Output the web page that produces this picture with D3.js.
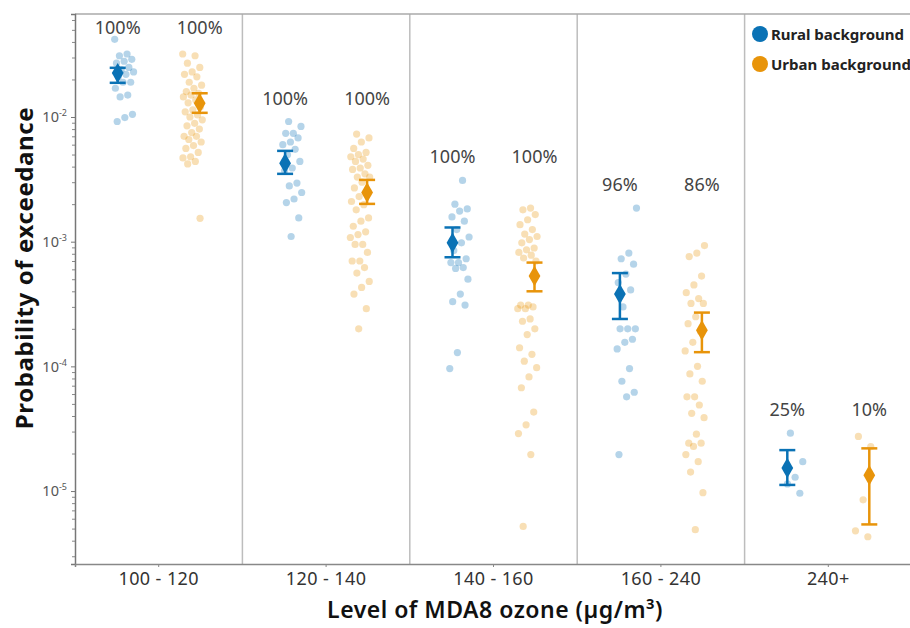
<!DOCTYPE html>
<html>
<head>
<meta charset="utf-8">
<script src="https://cdn.jsdelivr.net/npm/d3@7"></script>
<style>
  body { margin: 0; background: #fff; }
  svg { font-family: "Noto Sans", sans-serif; }
</style>
</head>
<body>
<svg id="chart" width="910" height="628"></svg>
<script>
const categories = ["100 - 120", "120 - 140", "140 - 160", "160 - 240", "240+"]
const seriesNames = ["Rural background", "Urban background"]
const colors = ["#0a72b5", "#e8940a"]

const ruralPoints = [
  [0.042, 0.032, 0.031, 0.029, 0.028, 0.027, 0.025, 0.024, 0.023, 0.022, 0.021, 0.019, 0.019, 0.017, 0.015, 0.0145, 0.0105, 0.0099, 0.0092],
  [0.0092, 0.0084, 0.0074, 0.0074, 0.0068, 0.0063, 0.006, 0.0055, 0.00497, 0.0044, 0.0039, 0.0037, 0.00295, 0.0028, 0.00248, 0.0022, 0.00206, 0.00155, 0.0011],
  [0.0031, 0.002, 0.00183, 0.00176, 0.00158, 0.00146, 0.00125, 0.00109, 0.00098, 0.00085, 0.00073, 0.00068, 0.00068, 0.00062, 0.00061, 0.0005, 0.00038, 0.00033, 0.00031, 0.000129, 0.000096],
  [0.00186, 0.00081, 0.00073, 0.00066, 0.00055, 0.00047, 0.00041, 0.0003, 0.0002, 0.0002, 0.0002, 0.000165, 0.000156, 0.000138, 0.000096, 0.000076, 0.000062, 0.000057, 0.0000196],
  [0.0000291, 0.0000172, 0.0000129, 0.0000114, 0.0000096]
]
const urbanPoints = [
  [0.032, 0.031, 0.027, 0.025, 0.023, 0.022, 0.021, 0.019, 0.018, 0.017, 0.016, 0.0155, 0.015, 0.0145, 0.0137, 0.013, 0.0121, 0.0114, 0.011, 0.0104, 0.010, 0.0095, 0.0089, 0.0085, 0.008, 0.0075, 0.007, 0.007, 0.0066, 0.0063, 0.0059, 0.0056, 0.0052, 0.0048, 0.0047, 0.0044, 0.0042, 0.00154],
  [0.0073, 0.0068, 0.0063, 0.0056, 0.0052, 0.005, 0.0048, 0.0046, 0.0044, 0.0041, 0.0039, 0.0038, 0.0035, 0.0033, 0.0033, 0.003, 0.0027, 0.0025, 0.0023, 0.0021, 0.00198, 0.0018, 0.00155, 0.00146, 0.00133, 0.0012, 0.00114, 0.00108, 0.00095, 0.00095, 0.00082, 0.0007, 0.0007, 0.00062, 0.00056, 0.00048, 0.00043, 0.00038, 0.00029, 0.0002],
  [0.00186, 0.0018, 0.00165, 0.0015, 0.00137, 0.00125, 0.00115, 0.0011, 0.00104, 0.00098, 0.00089, 0.00086, 0.00082, 0.00078, 0.00074, 0.0007, 0.00031, 0.00031, 0.0003, 0.00029, 0.00029, 0.00024, 0.00023, 0.0002, 0.00018, 0.000141, 0.000125, 0.00011, 0.0000977, 0.0000823, 0.0000674, 0.000043, 0.000034, 0.0000289, 0.0000196, 0.0000052],
  [0.00093, 0.00081, 0.00076, 0.00053, 0.00045, 0.00039, 0.00035, 0.00032, 0.00032, 0.00025, 0.00022, 0.00019, 0.000156, 0.000133, 0.0001, 0.000087, 0.000076, 0.000057, 0.000057, 0.000049, 0.000042, 0.0000388, 0.0000286, 0.0000242, 0.0000242, 0.0000228, 0.0000196, 0.0000172, 0.0000142, 0.0000097, 0.0000049],
  [0.0000274, 0.0000227, 0.0000085, 0.0000048, 0.0000043]
]

const ruralMean = [0.0225, 0.00426, 0.00098, 0.00038, 0.0000153]
const ruralLow = [0.0188, 0.0035, 0.00075, 0.00024, 0.0000112]
const ruralHigh = [0.0248, 0.00535, 0.0013, 0.00056, 0.0000213]
const urbanMean = [0.0129, 0.00248, 0.00053, 0.000195, 0.0000134]
const urbanLow = [0.0108, 0.00201, 0.0004, 0.00013, 0.0000054]
const urbanHigh = [0.0155, 0.00313, 0.00068, 0.00027, 0.000022]

const ruralPct = ["100%", "100%", "100%", "96%", "25%"]
const urbanPct = ["100%", "100%", "100%", "86%", "10%"]

const majorTicks = [1e-5, 1e-4, 1e-3, 1e-2]
const majorExp = ["-5", "-4", "-3", "-2"]

let svg = d3.select("#chart")
let margin = { left: 75, top: 14, right: 912, bottom: 564 }

let x = d3.scaleBand().domain(categories).range([margin.left, margin.right])
let y = d3.scaleLog().domain([2.6e-6, 0.067]).range([margin.bottom, margin.top])

let series = [
  { name: seriesNames[0], points: ruralPoints, mean: ruralMean, low: ruralLow, high: ruralHigh, pct: ruralPct, dx: -1 },
  { name: seriesNames[1], points: urbanPoints, mean: urbanMean, low: urbanLow, high: urbanHigh, pct: urbanPct, dx: 1 }
]
series.forEach((s, i) => s.color = colors[i])

// category separators
svg.append("g").selectAll("line").data(categories.slice(1)).join("line")
  .attr("x1", d => x(d)).attr("x2", d => x(d))
  .attr("y1", margin.top).attr("y2", margin.bottom)
  .attr("stroke", "#bdbdbd").attr("stroke-width", 1.5)

svg.append("line")
  .attr("x1", margin.left).attr("x2", 910)
  .attr("y1", margin.top).attr("y2", margin.top)
  .attr("stroke", "#aaa").attr("stroke-width", 1.5)

// y axis, minor then major
let minor = []
for (let e = -6; e <= -2; e++) {
  for (let m = 2; m <= 9; m++) {
    let v = m * Math.pow(10, e)
    if (v >= y.domain()[0] && v <= y.domain()[1]) minor.push(v)
  }
}
svg.append("g")
  .attr("transform", `translate(${margin.left},0)`)
  .call(d3.axisLeft(y).tickValues(minor).tickSize(3).tickFormat(""))
  .call(g => g.select(".domain").remove())
  .selectAll("line").attr("stroke", "#888")

let yAxis = svg.append("g")
  .attr("transform", `translate(${margin.left},0)`)
  .call(d3.axisLeft(y).tickValues(majorTicks).tickSize(4).tickPadding(4).tickFormat(""))
yAxis.select(".domain").attr("stroke", "#777").attr("stroke-width", 1.5)
yAxis.selectAll(".tick line").attr("stroke", "#777")
yAxis.selectAll(".tick text").each(function(d, i) {
  let t = d3.select(this)
    .attr("font-size", 14.5).attr("fill", "#555").attr("font-family", "Noto Sans, sans-serif")
  t.append("tspan").text("10")
  t.append("tspan").text(majorExp[i]).attr("font-size", 9).attr("dy", -6)
})

let xAxis = svg.append("g")
  .attr("transform", `translate(0,${margin.bottom})`)
  .call(d3.axisBottom(x).tickSize(3).tickPadding(5))
xAxis.select(".domain").attr("stroke", "#888").attr("stroke-width", 1.5)
xAxis.selectAll(".tick line").attr("stroke", "#888")
xAxis.selectAll(".tick text")
  .attr("font-size", 18).attr("letter-spacing", 0.4).attr("fill", "#333").attr("font-family", "Noto Sans, sans-serif")

// jittered points
let jitter = i => ((i * 0.618034) % 1 - 0.5) * 20
series.forEach(s => {
  let pts = []
  s.points.forEach((vals, c) => vals.forEach((v, i) => pts.push({ c, v, i })))
  svg.append("g").selectAll("circle").data(pts).join("circle")
    .attr("cx", d => x(categories[d.c]) + x.bandwidth() / 2 + s.dx * 34 + jitter(d.i + d.c * 7))
    .attr("cy", d => y(d.v))
    .attr("r", 3.6)
    .attr("fill", s.color)
    .attr("fill-opacity", 0.3)
})

// mean with error bars
series.forEach(s => {
  let g = svg.append("g")
  let cx = c => x(categories[c]) + x.bandwidth() / 2 + s.dx * 41
  let idx = d3.range(categories.length)
  g.selectAll(".bar").data(idx).join("line")
    .attr("x1", cx).attr("x2", cx)
    .attr("y1", c => y(s.low[c])).attr("y2", c => y(s.high[c]))
    .attr("stroke", s.color).attr("stroke-width", 2.5)
  g.selectAll(".capLow").data(idx).join("line")
    .attr("x1", c => cx(c) - 8).attr("x2", c => cx(c) + 8)
    .attr("y1", c => y(s.low[c])).attr("y2", c => y(s.low[c]))
    .attr("stroke", s.color).attr("stroke-width", 2.5)
  g.selectAll(".capHigh").data(idx).join("line")
    .attr("x1", c => cx(c) - 8).attr("x2", c => cx(c) + 8)
    .attr("y1", c => y(s.high[c])).attr("y2", c => y(s.high[c]))
    .attr("stroke", s.color).attr("stroke-width", 2.5)
  g.selectAll("path").data(idx).join("path")
    .attr("d", d3.symbol(d3.symbolDiamond, 120))
    .attr("transform", c => `translate(${cx(c)},${y(s.mean[c])})`)
    .attr("fill", s.color)
})

// percentage labels above each category
categories.forEach((cat, c) => {
  let top = d3.max([...ruralPoints[c], ...urbanPoints[c]])
  let ly = Math.max(y(top) - 24, 27)
  series.forEach(s => {
    svg.append("text")
      .attr("x", x(cat) + x.bandwidth() / 2 + s.dx * 41)
      .attr("y", ly)
      .attr("text-anchor", "middle").attr("dominant-baseline", "central")
      .attr("font-size", 18).attr("fill", "#444")
      .text(s.pct[c])
  })
})

// legend
let legend = svg.append("g").selectAll("g").data(series).join("g")
  .attr("transform", (d, i) => `translate(760,${34 + i * 30})`)
legend.append("circle").attr("r", 8).attr("fill", d => d.color)
legend.append("text")
  .attr("x", 11).attr("dominant-baseline", "central")
  .attr("font-size", 15).attr("font-weight", "bold").attr("fill", "#222")
  .text(d => d.name)

// axis titles
svg.append("text")
  .attr("transform", "translate(23,268) rotate(-90)")
  .attr("text-anchor", "middle").attr("dominant-baseline", "central")
  .attr("font-size", 24).attr("letter-spacing", 0.6).attr("font-weight", "bold").attr("fill", "#111")
  .text("Probability of exceedance")

svg.append("text")
  .attr("x", 495).attr("y", 609)
  .attr("text-anchor", "middle").attr("dominant-baseline", "central")
  .attr("font-size", 23).attr("letter-spacing", 0.5).attr("font-weight", 600).attr("fill", "#111")
  .text("Level of MDA8 ozone (µg/m³)")
</script>
</body>
</html>
